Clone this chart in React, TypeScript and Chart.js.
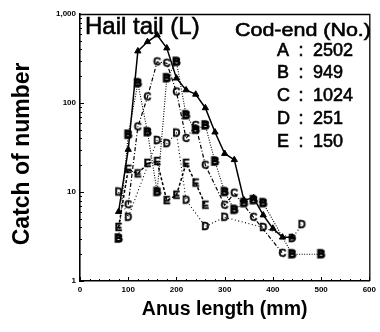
import React, { useEffect, useRef } from 'react';
import { Chart, registerables } from 'chart.js';

Chart.register(...registerables);

// Anus length classes (mm)
const lengths = [80, 100, 120, 140, 160, 180, 200, 220, 240, 260, 280, 300, 320, 340, 360, 380, 400, 420, 440, 460, 480, 500];

// Catch of number per cod-end (null = no point)
const seriesA = [6, 30, 383, 487, 580, 414, 190, 140, 125, 88, 47, 27, 23, 8.1, 8.6, 5.5, 3.9, 3.1, 3.1, null, null, null];
const seriesB = [3, 44, 167, 47, 10, 190, 290, 73, 50, 56, 22, 10, 6.3, 7.5, 8.1, 7.5, null, null, 2, null, null, 2];
const seriesC = [null, 7.2, 54, 117, 290, 280, 133, 40, 56, 20, null, 7.1, 9.7, null, 5.2, null, null, 2.05, null, null, null, null];
const seriesD = [10, 5.2, null, null, 38, 35, 46, 8.1, null, 4.1, null, 5.2, null, null, null, 4.0, null, null, 3.0, 4.3, null, null];
const seriesE = [4, 18, 16, 21, 22, 8, 9.2, 21, 12.6, 7.1, null, null, null, null, null, null, null, null, null, null, null, null];

const codEndLabels = ['A', 'B', 'C', 'D', 'E'];
const codEndCounts = [2502, 949, 1024, 251, 150];

const xTickValues = [0, 100, 200, 300, 400, 500, 600];
const yTickValues = [1, 10, 100, 1000];
const yTickLabels = ['1', '10', '100', '1,000'];

const FONT = '"Liberation Sans", Arial, Helvetica, sans-serif';

function letterMarker(ch: string, heavy: boolean): HTMLCanvasElement {
  const c = document.createElement('canvas');
  c.width = 13;
  c.height = 13;
  const ctx = c.getContext('2d')!;
  ctx.font = `bold 11px ${FONT}`;
  ctx.textAlign = 'center';
  ctx.textBaseline = 'middle';
  ctx.fillStyle = '#000';
  ctx.strokeStyle = '#000';
  ctx.fillText(ch, 6.5, 7);
  ctx.lineWidth = heavy ? 1.4 : 0.5;
  ctx.strokeText(ch, 6.5, 7);
  return c;
}

function toPoints(values: (number | null)[]) {
  const pts: { x: number; y: number }[] = [];
  values.forEach((v, i) => {
    if (v !== null) pts.push({ x: lengths[i], y: v });
  });
  return pts;
}

function heavyText(ctx: CanvasRenderingContext2D, s: string, x: number, y: number) {
  ctx.fillText(s, x, y);
  ctx.strokeText(s, x, y);
}

const decorPlugin = {
  id: 'decor',
  afterDraw(chart: any) {
    const { ctx, chartArea: ca, scales } = chart;
    const x = scales.x;
    const y = scales.y;
    ctx.save();
    ctx.strokeStyle = '#000';
    ctx.lineWidth = 1.3;
    // frame top + right
    ctx.beginPath();
    ctx.moveTo(ca.left, ca.top + 0.5);
    ctx.lineTo(ca.right + 0.5, ca.top + 0.5);
    ctx.lineTo(ca.right + 0.5, ca.bottom);
    ctx.stroke();
    // y ticks (log minor)
    ctx.lineWidth = 1;
    ctx.beginPath();
    for (let k = 0; k < 3; k++) {
      for (let m = 1; m <= 9; m++) {
        const py = Math.round(y.getPixelForValue(m * Math.pow(10, k))) + 0.5;
        const len = m === 1 ? 4 : 2;
        ctx.moveTo(ca.left, py);
        ctx.lineTo(ca.left + len, py);
      }
    }
    const pTop = Math.round(y.getPixelForValue(1000)) + 0.5;
    ctx.moveTo(ca.left, pTop);
    ctx.lineTo(ca.left + 4, pTop);
    // x ticks every 20
    for (let v = 0; v <= 600; v += 20) {
      const px = Math.round(x.getPixelForValue(v)) + 0.5;
      const len = v % 100 === 0 ? 4 : 2;
      ctx.moveTo(px, ca.bottom);
      ctx.lineTo(px, ca.bottom - len);
    }
    ctx.stroke();

    // texts
    ctx.fillStyle = '#000';
    ctx.strokeStyle = '#000';
    ctx.lineWidth = 0.6;
    ctx.textBaseline = 'alphabetic';
    ctx.textAlign = 'left';
    ctx.font = `24px ${FONT}`;
    heavyText(ctx, 'Hail tail (L)', 85, 34);

    ctx.save();
    ctx.translate(235, 36);
    ctx.scale(1.16, 1);
    ctx.font = `18.5px ${FONT}`;
    heavyText(ctx, 'Cod-end (No.)', 0, 0);
    ctx.restore();

    ctx.font = `18px ${FONT}`;
    ctx.lineWidth = 0.6;
    codEndLabels.forEach((lab, i) => {
      const base = 55.5 + i * 22.8;
      ctx.textAlign = 'left';
      heavyText(ctx, lab, 277, base);
      ctx.textAlign = 'center';
      heavyText(ctx, ':', 301, base);
      ctx.textAlign = 'left';
      heavyText(ctx, String(codEndCounts[i]), 313, base);
    });
    ctx.restore();
  },
};

export default function App() {
  const ref = useRef<HTMLCanvasElement | null>(null);

  useEffect(() => {
    if (!ref.current) return;
    const mk = (
      label: string,
      values: (number | null)[],
      dash: number[],
      width: number,
      marker: any,
      radius: number
    ) => ({
      label,
      data: toPoints(values),
      borderColor: '#000',
      backgroundColor: '#000',
      borderWidth: width,
      borderDash: dash,
      pointStyle: marker,
      pointRadius: radius,
      pointBorderWidth: 1,
      pointBackgroundColor: '#000',
      pointBorderColor: '#000',
      tension: 0,
      spanGaps: true,
      fill: false,
    });

    const datasets = [
      mk('E', seriesE, [3, 2], 1.5, letterMarker('E', false), 6),
      mk('D', seriesD, [1, 2.5], 1.1, letterMarker('D', false), 6),
      mk('C', seriesC, [4, 2, 1, 2], 1.2, letterMarker('C', false), 6),
      mk('B', seriesB, [1, 1.5], 1.1, letterMarker('B', true), 6),
      mk('A', seriesA, [], 1.5, 'triangle', 3.6),
    ];

    const chart = new Chart(ref.current, {
      type: 'line',
      data: { datasets },
      options: {
        animation: false,
        responsive: false,
        maintainAspectRatio: false,
        layout: { padding: { top: 14, right: 10, left: 0, bottom: 0 } },
        plugins: {
          legend: { display: false },
          tooltip: { enabled: false },
        },
        scales: {
          x: {
            type: 'linear',
            min: 0,
            max: 600,
            grid: { display: false, drawTicks: false },
            border: { display: true, color: '#000', width: 1.6 },
            afterBuildTicks: (scale: any) => {
              scale.ticks = xTickValues.map((v) => ({ value: v }));
            },
            afterFit: (scale: any) => {
              scale.height = 51;
            },
            ticks: {
              autoSkip: false,
              maxRotation: 0,
              padding: 4,
              color: '#000',
              font: { family: FONT, size: 8, weight: 'bold' },
              callback: (v: any) => String(v),
            },
            title: {
              display: true,
              text: 'Anus length (mm)',
              color: '#000',
              font: { family: FONT, size: 19.5, weight: 'bold', lineHeight: 1 },
              padding: { top: 0, bottom: 13 },
            },
          },
          y: {
            type: 'logarithmic',
            min: 1,
            max: 1000,
            grid: { display: false, drawTicks: false },
            border: { display: true, color: '#000', width: 1.6 },
            afterBuildTicks: (scale: any) => {
              scale.ticks = yTickValues.map((v) => ({ value: v }));
            },
            afterFit: (scale: any) => {
              scale.width = 80;
            },
            ticks: {
              autoSkip: false,
              padding: 4,
              color: '#000',
              font: { family: FONT, size: 8, weight: 'bold' },
              callback: (v: any) => {
                const i = yTickValues.indexOf(Number(v));
                return i >= 0 ? yTickLabels[i] : '';
              },
            },
            title: {
              display: true,
              text: 'Catch of number  ',
              color: '#000',
              font: { family: FONT, size: 23, weight: 'bold', lineHeight: 1 },
              padding: { top: 11, bottom: 0 },
            },
          },
        },
      },
      plugins: [decorPlugin],
    } as any);

    return () => chart.destroy();
  }, []);

  return (
    <div style={{ position: 'fixed', left: 0, top: 0, width: 380, height: 332, background: '#fff' }}>
      <canvas ref={ref} width={380} height={332} style={{ display: 'block', width: 380, height: 332 }} />
    </div>
  );
}
